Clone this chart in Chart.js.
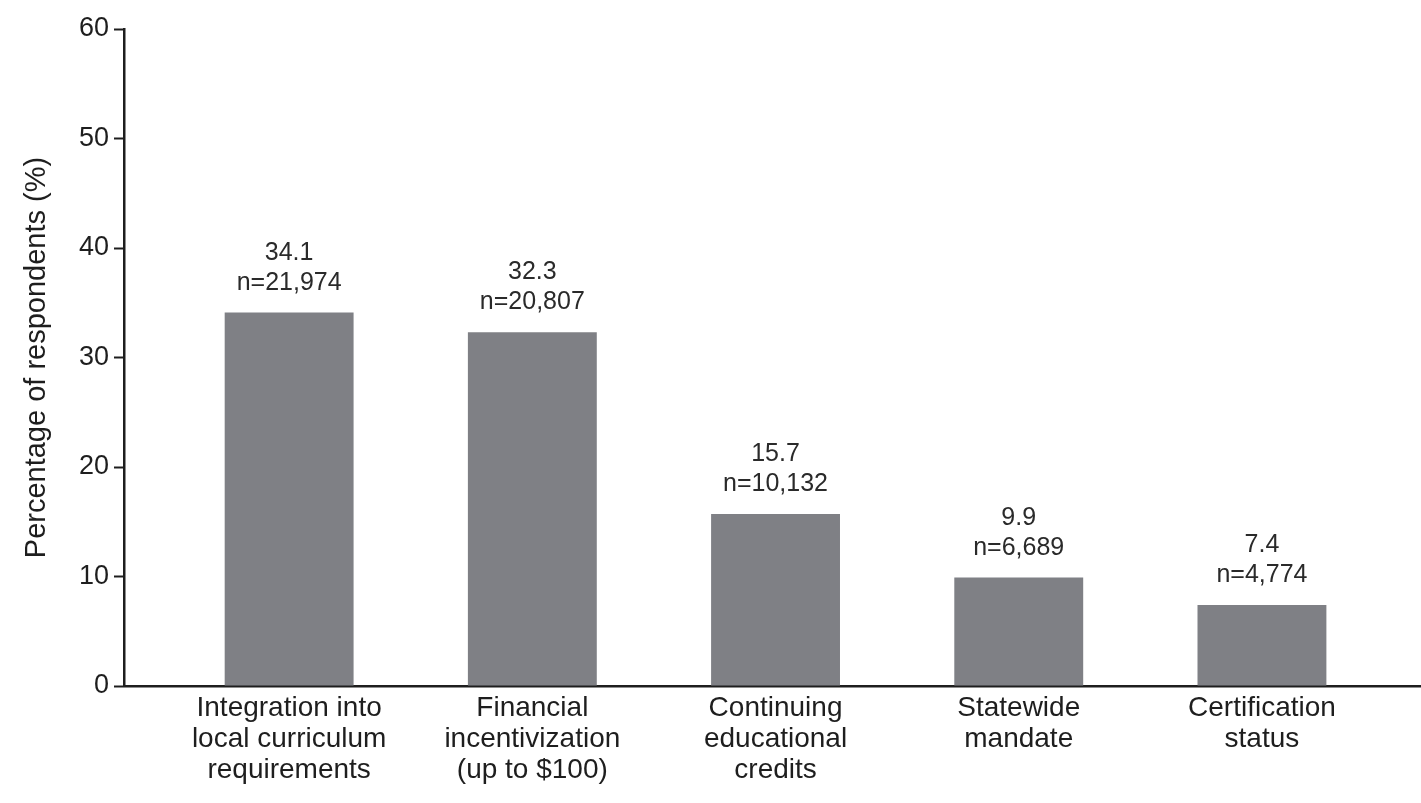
<!DOCTYPE html>
<html>
<head>
<meta charset="utf-8">
<script src="https://cdn.jsdelivr.net/npm/chart.js@4/dist/chart.umd.min.js"></script>
<style>
  html, body { margin: 0; padding: 0; background: #fff; }
  #wrap { width: 1421px; height: 803px; }
</style>
</head>
<body>
<div id="wrap"><canvas id="barChart"></canvas></div>
<script>
// Categories and values
const categories = [
  ['Integration into', 'local curriculum', 'requirements'],
  ['Financial', 'incentivization', '(up to $100)'],
  ['Continuing', 'educational', 'credits'],
  ['Statewide', 'mandate'],
  ['Certification', 'status']
];
const percentages = [34.1, 32.3, 15.7, 9.9, 7.4];
const counts = ['n=21,974', 'n=20,807', 'n=10,132', 'n=6,689', 'n=4,774'];
const yTicks = [0, 10, 20, 30, 40, 50, 60];

const fontFamily = '"Liberation Sans", Arial, sans-serif';
const ink = '#1e1e1e';

// Labels above each bar: percentage then n
const barLabels = {
  id: 'barLabels',
  afterDatasetsDraw(chart) {
    const ctx = chart.ctx;
    const meta = chart.getDatasetMeta(0);
    ctx.save();
    ctx.fillStyle = '#2a2a2a';
    ctx.font = '25px ' + fontFamily;
    ctx.textAlign = 'center';
    ctx.textBaseline = 'alphabetic';
    meta.data.forEach((bar, i) => {
      ctx.fillText(counts[i], bar.x, bar.y - 23);
      ctx.fillText(percentages[i].toFixed(1), bar.x, bar.y - 53);
    });
    ctx.restore();
  }
};

const ctx = document.getElementById('barChart').getContext('2d');
const chart = new Chart(ctx, {
  type: 'bar',
  data: {
    datasets: [{
      data: percentages.map((v, i) => ({ x: i, y: v })),
      backgroundColor: '#7f8085',
      borderWidth: 0,
      categoryPercentage: 1,
      barPercentage: 0.53
    }]
  },
  options: {
    responsive: true,
    maintainAspectRatio: false,
    animation: false,
    devicePixelRatio: 1,
    layout: { padding: { top: 29, right: 0, left: 0, bottom: 0 } },
    plugins: {
      legend: { display: false },
      tooltip: { enabled: false }
    },
    scales: {
      x: {
        type: 'linear',
        offset: false,
        min: -0.679,
        max: 4.654,
        afterFit: s => { s.height = 117; },
        afterBuildTicks: s => {
          s.ticks = categories.map((c, i) => ({ value: i }));
        },
        grid: { display: false, offset: false },
        border: { display: true, color: ink, width: 2.5 },
        ticks: {
          autoSkip: false,
          maxRotation: 0,
          padding: -1,
          color: ink,
          font: { family: fontFamily, size: 28, lineHeight: 1.1 },
          callback: v => categories[v] || ''
        }
      },
      y: {
        min: 0,
        max: 60,
        afterFit: s => { s.width = 124; },
        afterBuildTicks: s => {
          s.ticks = yTicks.map(v => ({ value: v }));
        },
        grid: {
          drawOnChartArea: false,
          drawTicks: true,
          tickLength: 10,
          tickWidth: 2,
          tickColor: ink
        },
        border: { display: true, color: ink, width: 2.5 },
        ticks: {
          padding: 5,
          color: ink,
          font: { family: fontFamily, size: 27 }
        },
        title: {
          display: true,
          text: 'Percentage of respondents (%)',
          color: ink,
          font: { family: fontFamily, size: 29 },
          padding: { top: 20, bottom: 0 }
        }
      }
    }
  },
  plugins: [barLabels]
});
</script>
</body>
</html>
